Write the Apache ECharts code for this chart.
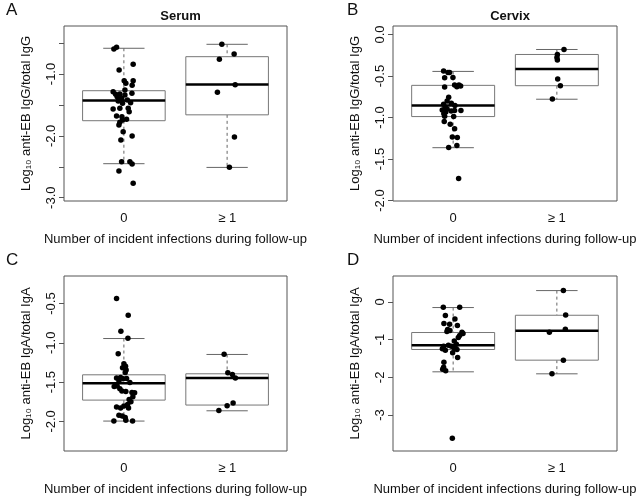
<!DOCTYPE html>
<html><head><meta charset="utf-8">
<script src="https://cdn.jsdelivr.net/npm/echarts@6/dist/echarts.min.js"></script>
<style>html,body{margin:0;padding:0;background:#fff}#chart{width:639px;height:497px}</style>
</head><body><div id="chart"></div>
<script>
const categories = ['0', '≥ 1'];
const xAxisTitle = 'Number of incident infections during follow-up';
const panelLetters = ['A', 'B', 'C', 'D'];
const panelTitles = ['Serum', 'Cervix', '', ''];
const yAxisTitles = ['Log₁₀ anti-EB IgG/total IgG', 'Log₁₀ anti-EB IgG/total IgG',
                     'Log₁₀ anti-EB IgA/total IgA', 'Log₁₀ anti-EB IgA/total IgA'];

// Box statistics: [group position, lower whisker, Q1, median, Q3, upper whisker]
const serumIgGBoxes = [[1, -2.45, -1.755, -1.43, -1.27, -0.584], [2, -2.51, -1.66, -1.17, -0.72, -0.52]];
const cervixIgGBoxes = [[1, -1.363, -0.988, -0.856, -0.612, -0.444], [2, -0.779, -0.616, -0.416, -0.240, -0.180]];
const serumIgABoxes = [[1, -1.996, -1.729, -1.513, -1.407, -0.945], [2, -1.865, -1.792, -1.449, -1.394, -1.148]];
const cervixIgABoxes = [[1, -1.853, -1.261, -1.147, -0.811, -0.149], [2, -1.906, -1.544, -0.767, -0.353, 0.301]];

// Y-axis ranges, tick values and labelled values
const serumIgGRange = [-3.053, -0.224];
const cervixIgGRange = [-2.005, 0.103];
const serumIgARange = [-2.377, -0.149];
const cervixIgARange = [-3.953, 0.688];
const serumIgGTicks = [-3, -2.5, -2, -1.5, -1, -0.5];
const serumIgGLabels = [-3, -2, -1];
const cervixIgGTicks = [-2, -1.5, -1, -0.5, 0];
const serumIgATicks = [-2, -1.5, -1, -0.5];
const cervixIgATicks = [-3, -2, -1, 0];

// Jittered points: [jittered group position, value]
const serumIgG0 = [[0.903,-0.596],[0.929,-0.568],[1.090,-0.843],[0.954,-0.935],[1.003,-1.108],[1.019,-1.150],[1.090,-1.108],[1.080,-1.183],[1.010,-1.259],[0.896,-1.286],[0.920,-1.328],[0.935,-1.367],[0.961,-1.323],[0.978,-1.393],[1.010,-1.340],[1.078,-1.312],[1.065,-1.464],[0.987,-1.474],[1.034,-1.420],[0.945,-1.437],[0.896,-1.566],[0.961,-1.555],[1.042,-1.555],[1.051,-1.610],[0.929,-1.679],[0.981,-1.690],[0.987,-1.744],[1.026,-1.732],[0.961,-1.781],[0.952,-1.825],[0.993,-1.933],[0.971,-2.067],[1.080,-2.002],[0.978,-2.418],[1.058,-2.418],[1.080,-2.455],[0.952,-2.568],[1.090,-2.767]];
const serumIgG1 = [[1.949,-0.520],[2.068,-0.677],[1.925,-0.762],[2.078,-1.173],[1.906,-1.296],[2.071,-2.019],[2.022,-2.509]];
const cervixIgG0 = [[0.908,-0.440],[0.950,-0.456],[0.966,-0.456],[0.918,-0.520],[0.998,-0.516],[0.918,-0.632],[1.014,-0.608],[1.056,-0.608],[1.036,-0.628],[1.072,-0.620],[0.957,-0.755],[0.942,-0.800],[0.908,-0.839],[0.982,-0.827],[1.017,-0.856],[0.923,-0.875],[1.075,-0.916],[1.014,-0.916],[0.929,-0.932],[0.910,-0.955],[0.918,-0.983],[1.005,-0.988],[0.895,-0.908],[0.914,-1.048],[0.972,-1.079],[1.014,-1.135],[0.992,-1.235],[1.040,-1.239],[0.957,-1.360],[1.036,-1.336],[1.053,-1.735],[0.942,-0.896],[0.981,-0.922]];
const cervixIgG1 = [[2.069,-0.180],[2.005,-0.240],[2.001,-0.276],[2.005,-0.308],[2.008,-0.536],[2.034,-0.616],[1.957,-0.776]];
const serumIgA0 = [[0.929,-0.436],[1.042,-0.649],[0.971,-0.852],[1.039,-0.941],[0.945,-1.140],[1.000,-1.267],[1.016,-1.297],[0.987,-1.318],[1.022,-1.347],[1.013,-1.377],[0.929,-1.449],[0.968,-1.440],[0.993,-1.458],[1.026,-1.453],[1.058,-1.504],[0.952,-1.487],[0.906,-1.555],[0.935,-1.551],[0.961,-1.585],[0.981,-1.614],[1.019,-1.618],[1.078,-1.631],[1.104,-1.636],[1.087,-1.687],[1.051,-1.720],[1.068,-1.750],[1.036,-1.784],[1.000,-1.805],[0.929,-1.818],[0.968,-1.830],[1.045,-1.830],[0.952,-1.923],[0.984,-1.932],[1.013,-1.949],[0.903,-1.996],[1.019,-1.987],[1.084,-1.996]];
const serumIgA1 = [[1.971,-1.144],[2.007,-1.381],[2.051,-1.402],[2.080,-1.449],[2.058,-1.767],[2.000,-1.801],[1.920,-1.860]];
const cervixIgA0 = [[0.905,-0.140],[1.063,-0.140],[0.925,-0.360],[1.017,-0.450],[0.911,-0.572],[0.966,-0.590],[1.041,-0.625],[0.947,-0.731],[0.940,-0.784],[0.969,-0.757],[1.085,-0.802],[1.095,-0.837],[1.063,-0.890],[1.050,-0.943],[1.011,-1.033],[1.031,-1.120],[0.908,-1.173],[0.896,-1.244],[0.925,-1.279],[0.983,-1.173],[1.008,-1.208],[1.037,-1.261],[0.995,-1.350],[1.043,-1.472],[0.911,-1.597],[0.908,-1.729],[0.899,-1.782],[0.928,-1.827],[0.992,-3.617],[1.017,-1.234],[0.954,-1.146]];
const cervixIgA1 = [[2.063,0.301],[2.085,-0.344],[2.082,-0.723],[1.928,-0.802],[2.063,-1.544],[1.953,-1.906]];

const panels = [
  {boxes: serumIgGBoxes, pts: [serumIgG0, serumIgG1], range: serumIgGRange, ticks: serumIgGTicks, labels: serumIgGLabels, dec: 1},
  {boxes: cervixIgGBoxes, pts: [cervixIgG0, cervixIgG1], range: cervixIgGRange, ticks: cervixIgGTicks, labels: cervixIgGTicks, dec: 1},
  {boxes: serumIgABoxes, pts: [serumIgA0, serumIgA1], range: serumIgARange, ticks: serumIgATicks, labels: serumIgATicks, dec: 1},
  {boxes: cervixIgABoxes, pts: [cervixIgA0, cervixIgA1], range: cervixIgARange, ticks: cervixIgATicks, labels: cervixIgATicks, dec: 0}
];
const gridPos = [
  {left: 64, top: 26, width: 223, height: 175},
  {left: 393, top: 26, width: 224, height: 175},
  {left: 64, top: 276, width: 223, height: 175},
  {left: 393, top: 276, width: 224, height: 175}
];
const FONT = 'Liberation Sans, Arial, Helvetica, sans-serif';
const TXT = '#111';

function renderBox(params, api) {
  const x = api.value(0), lo = api.value(1), q1 = api.value(2), md = api.value(3), q3 = api.value(4), hi = api.value(5);
  const tl = api.coord([x - 0.4, q3]), br = api.coord([x + 0.4, q1]);
  const top = api.coord([x, hi]), bot = api.coord([x, lo]);
  const capL = api.coord([x - 0.2, hi])[0], capR = api.coord([x + 0.2, hi])[0];
  const mL = api.coord([x - 0.4, md]), mR = api.coord([x + 0.4, md]);
  const dash = {stroke: '#666', lineWidth: 1, lineDash: [3, 3]};
  const solid = {stroke: '#666', lineWidth: 1};
  return {type: 'group', children: [
    {type: 'line', shape: {x1: top[0], y1: top[1], x2: top[0], y2: tl[1]}, style: dash},
    {type: 'line', shape: {x1: top[0], y1: br[1], x2: top[0], y2: bot[1]}, style: dash},
    {type: 'line', shape: {x1: capL, y1: top[1], x2: capR, y2: top[1]}, style: solid},
    {type: 'line', shape: {x1: capL, y1: bot[1], x2: capR, y2: bot[1]}, style: solid},
    {type: 'rect', shape: {x: tl[0], y: tl[1], width: br[0] - tl[0], height: br[1] - tl[1]}, style: {fill: '#fff', stroke: '#777', lineWidth: 1}},
    {type: 'line', shape: {x1: mL[0], y1: mL[1], x2: mR[0], y2: mR[1]}, style: {stroke: '#000', lineWidth: 2.5}}
  ]};
}

const grid = [], xAxis = [], yAxis = [], series = [], title = [];
panels.forEach((p, i) => {
  const g = gridPos[i];
  grid.push(Object.assign({show: true, borderColor: '#555', borderWidth: 1, backgroundColor: 'transparent'}, g));
  xAxis.push({
    type: 'value', gridIndex: i, min: 0.42, max: 2.58,
    axisLine: {show: false}, axisTick: {show: false}, splitLine: {show: false},
    axisLabel: {customValues: [1, 2], formatter: v => categories[Math.round(v) - 1], margin: 11,
                fontSize: 13, color: TXT, fontFamily: FONT},
    name: xAxisTitle, nameLocation: 'middle', nameGap: 32,
    nameTextStyle: {fontSize: 13, color: TXT, fontFamily: FONT}
  });
  yAxis.push({
    type: 'value', gridIndex: i, min: p.range[0], max: p.range[1],
    axisLine: {show: false}, splitLine: {show: false},
    axisTick: {show: true, customValues: p.ticks, length: 5, lineStyle: {color: '#555'}},
    axisLabel: {customValues: p.labels, rotate: 90, margin: 6, fontSize: 13, color: TXT, fontFamily: FONT,
                formatter: v => Number(v).toFixed(p.dec)},
    name: yAxisTitles[i], nameLocation: 'middle', nameRotate: 90, nameGap: 31,
    nameTextStyle: {fontSize: 13, color: TXT, fontFamily: FONT}
  });
  series.push({type: 'custom', xAxisIndex: i, yAxisIndex: i, data: p.boxes,
               encode: {x: 0, y: [1, 2, 3, 4, 5]}, renderItem: renderBox, z: 2, silent: true});
  p.pts.forEach(pts => series.push({type: 'scatter', xAxisIndex: i, yAxisIndex: i, data: pts,
               symbolSize: 5.5, itemStyle: {color: '#000', opacity: 1}, z: 3, silent: true}));
  title.push({text: panelLetters[i], left: g.left - (i % 2 ? 51 : 63), top: g.top - 29,
              textStyle: {fontSize: 17, fontWeight: 'normal', color: TXT, fontFamily: FONT}});
  if (panelTitles[i]) {
    title.push({text: panelTitles[i], left: g.left + g.width / 2, textAlign: 'center', top: g.top - 21,
                textStyle: {fontSize: 13, fontWeight: 'bold', color: TXT, fontFamily: FONT}});
  }
});

const chart = echarts.init(document.getElementById('chart'));
chart.setOption({animation: false, backgroundColor: '#fff', title, grid, xAxis, yAxis, series});
</script>
</body></html>
